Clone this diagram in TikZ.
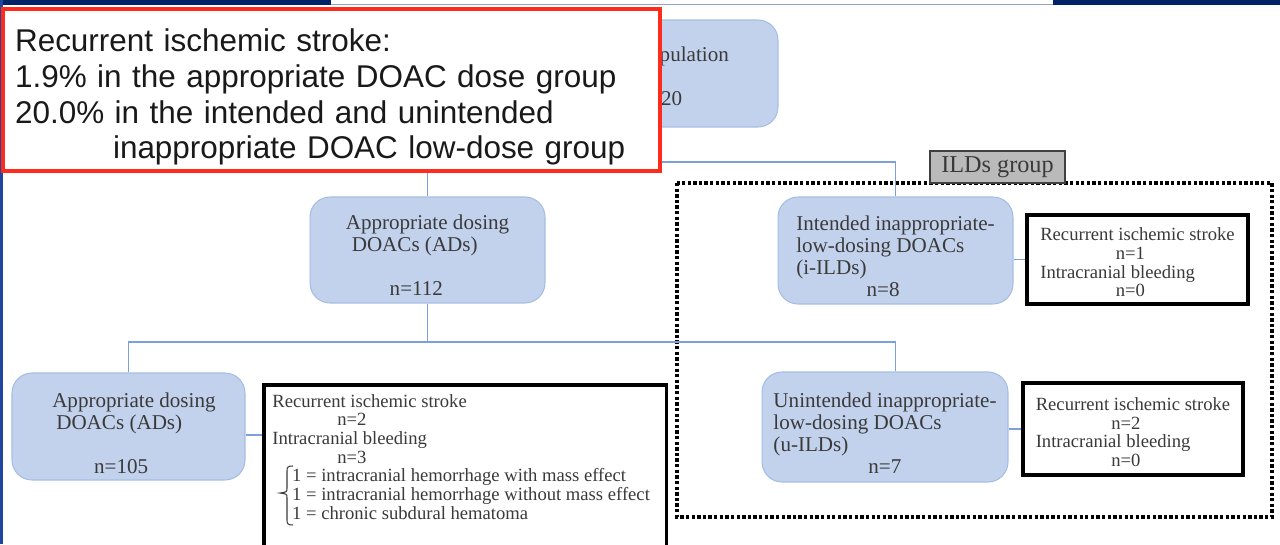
\documentclass[tikz,border=0pt]{standalone}
\usepackage{fontspec}
\setmainfont{Liberation Serif}
\newfontfamily\arialf{Liberation Sans}
\definecolor{navy}{HTML}{002266}
\definecolor{leftblue}{HTML}{1F459E}
\definecolor{stripline}{HTML}{8EA4C8}
\definecolor{redc}{HTML}{FF2B1C}
\definecolor{boxfill}{HTML}{C3D2EC}
\definecolor{boxborder}{HTML}{A5BDE4}
\definecolor{connblue}{HTML}{7EA0D8}
\definecolor{txtgray}{HTML}{3A3A3A}
\definecolor{labelfill}{HTML}{BABABA}
\definecolor{labelborder}{HTML}{404040}
\newcommand\topgap[1]{\rule{0pt}{#1}}
\begin{document}
\begin{tikzpicture}[x=0.02cm,y=-0.02cm,
  bbox/.style={draw=boxborder, fill=boxfill, rounded corners=0.4cm, line width=0.6pt,
    text=txtgray, font=\fontsize{12}{12.5}\selectfont, align=left, inner sep=0pt},
  resbox/.style={draw=black, line width=2pt, fill=white, text=txtgray,
    font=\fontsize{10.6}{10.6}\selectfont, align=left, inner sep=0pt},
  restext/.style={text=txtgray, font=\fontsize{10.6}{10.6}\selectfont, align=left, inner sep=0pt},
  conn/.style={draw=connblue, line width=0.8pt}]
\useasboundingbox (0,0) rectangle (1280,544);
\clip (0,0) rectangle (1280,544);
\fill[white] (0,0) rectangle (1280,544);
% top band and left border
\fill[navy] (0,0) rectangle (331,5);
\fill[navy] (1053,0) rectangle (1280,5);
\draw[stripline, line width=0.8pt] (331,4.5) -- (1053,4.5);
\fill[leftblue] (0,0) rectangle (2.5,544);
% ILDs group dotted frame
\draw[line width=1.9pt, dash pattern=on 1.9pt off 1.3pt] (677,183) rectangle (1272,517);
% coordinates for connectors
\coordinate (s1) at (656.5,162);
\coordinate (s2) at (427.5,342);
\coordinate (c3) at (245,435);
% boxes
\node[bbox, minimum width=4.86cm, minimum height=2.14cm] (top) at (656.5,73.5)
  {\topgap{12pt}Study population\\[12.5pt]\hspace*{25pt}n=120};
\node[bbox, minimum width=4.7cm, minimum height=2.12cm] (ads) at (427.5,250)
  {\topgap{14pt}Appropriate dosing\\\hspace*{3.4pt}DOACs (ADs)\\[12.5pt]\hspace*{25pt}n=112};
\node[bbox, minimum width=4.66cm, minimum height=2.14cm] (adsb) at (128.5,426.5)
  {\topgap{16pt}\hspace*{6.2pt}Appropriate dosing\\\hspace*{8.5pt}DOACs (ADs)\\[12.5pt]\hspace*{30pt}n=105};
\node[bbox, minimum width=4.7cm, minimum height=2.14cm] (iild) at (895.5,250.5)
  {\topgap{15pt}Intended inappropriate-\\low-dosing DOACs\\(i-ILDs)\\\hspace*{40pt}n=8};
\node[bbox, minimum width=4.92cm, minimum height=2.2cm] (uild) at (885,427)
  {\topgap{15pt}Unintended inappropriate-\\low-dosing DOACs\\(u-ILDs)\\\hspace*{54pt}n=7};
\node[resbox, minimum width=4.42cm, minimum height=1.78cm] (ires) at (1137.5,259.5)
  {\topgap{10.7pt}Recurrent ischemic stroke\\\hspace*{43pt}n=1\\Intracranial bleeding\\\hspace*{43pt}n=0};
\node[resbox, minimum width=4.4cm, minimum height=1.84cm] (ures) at (1133,429)
  {\topgap{10.7pt}Recurrent ischemic stroke\\\hspace*{43pt}n=2\\Intracranial bleeding\\\hspace*{43pt}n=0};
\node[resbox, minimum width=8.06cm, minimum height=4cm, anchor=north west] (adsres) at (262,383) {};
\node[restext, anchor=north west] (adsrestxt) at (272,394)
  {Recurrent ischemic stroke\\\hspace*{37pt}n=2\\Intracranial bleeding\\\hspace*{37pt}n=3\\
   \hspace*{11.3pt}1 = intracranial hemorrhage with mass effect\\
   \hspace*{11.3pt}1 = intracranial hemorrhage without mass effect\\
   \hspace*{11.3pt}1 = chronic subdural hematoma};
\draw[txtgray, line width=0.6pt] (293,466) .. controls (288,466) and (287,467) .. (287,471) -- (287,488)
  .. controls (287,492) .. (280,493) .. controls (287,494) .. (287,498) -- (287,520)
  .. controls (287,524) and (288,525) .. (293,525);
% connectors
\draw[conn] (top.south) -- (s1);
\draw[conn] (s1) -| (ads.north);
\draw[conn] (s1) -| (iild.north);
\draw[conn] (ads.south) -- (s2);
\draw[conn] (s2) -| (adsb.north);
\draw[conn] (s2) -| (uild.north -| iild.north);
\draw[conn] (iild.east |- ires.west) -- (ires.west);
\draw[conn] (uild.east |- ures.west) -- (ures.west);
\draw[conn] (adsb.east |- c3) -- (adsres.west |- c3);
% ILDs label
\node[draw=labelborder, fill=labelfill, line width=1pt, minimum width=2.7cm, minimum height=0.64cm,
  font=\fontsize{13.8}{14}\selectfont, text=txtgray, inner sep=0pt] (ildslab) at (997.5,167) {ILDs group};
% red note
\node[draw=redc, line width=2.3pt, fill=white, minimum width=13.14cm, minimum height=3.2cm,
  text width=12.66cm, inner xsep=0.24cm, align=left, font=\arialf\fontsize{17.9}{20.4}\selectfont,
  text=black!90] (note) at (331.5,90)
  {\topgap{21pt}Recurrent ischemic stroke:\\1.9\% in the appropriate DOAC dose group\\20.0\% in the intended and unintended\\\hspace*{1.96cm}inappropriate DOAC low-dose group};
\end{tikzpicture}
\end{document}
